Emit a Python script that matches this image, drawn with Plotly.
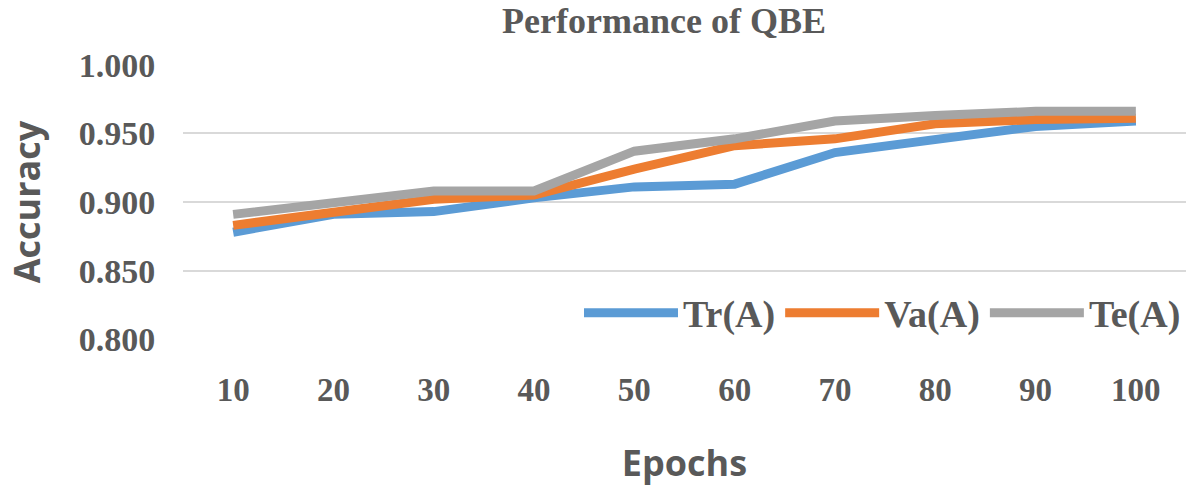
import plotly.graph_objects as go

epochs = ["10", "20", "30", "40", "50", "60", "70", "80", "90", "100"]
tr_a = [0.878, 0.891, 0.893, 0.903, 0.911, 0.913, 0.936, 0.946, 0.955, 0.959]
va_a = [0.883, 0.893, 0.902, 0.905, 0.924, 0.941, 0.946, 0.957, 0.960, 0.961]
te_a = [0.891, 0.899, 0.908, 0.908, 0.937, 0.946, 0.959, 0.963, 0.966, 0.966]
y_ticks = [0.800, 0.850, 0.900, 0.950, 1.000]
y_tick_labels = ["0.800", "0.850", "0.900", "0.950", "1.000"]

series = [("Tr(A)", tr_a, "#5B9BD5"), ("Va(A)", va_a, "#ED7D31"), ("Te(A)", te_a, "#A5A5A5")]

TEXT = "#595959"
SERIF = "Liberation Serif"
SANS = "Open Sans"

fig = go.Figure()
for name, vals, col in series:
    fig.add_trace(go.Scatter(x=epochs, y=vals, name="<b>%s</b>" % name, mode="lines",
                             line=dict(color=col, width=9)))

fig.update_layout(
    width=1193, height=492,
    margin=dict(l=183, r=7, t=64, b=152, autoexpand=False),
    paper_bgcolor="white", plot_bgcolor="white",
    title=dict(text="<b>Performance of QBE</b>", x=664/1193, xref="container", xanchor="center",
               y=1-20/492, yref="container", yanchor="middle",
               font=dict(family=SERIF, size=36, color=TEXT)),
    showlegend=True,
    legend=dict(orientation="h", x=1.0, xanchor="right", y=0.098, yanchor="middle",
                font=dict(family=SERIF, size=38, color=TEXT), bgcolor="rgba(0,0,0,0)",
                itemwidth=94, tracegroupgap=0),
    xaxis=dict(type="category", range=[-0.5, 9.5], automargin=False,
               showgrid=False, showline=False, zeroline=False,
               ticks="outside", ticklen=20, tickcolor="rgba(0,0,0,0)",
               tickfont=dict(family=SERIF, size=33, color=TEXT),
               title=dict(text="<b>Epochs</b>", font=dict(family=SANS, size=36, color=TEXT), standoff=44),
               tickprefix="<b>", ticksuffix="</b>"),
    yaxis=dict(range=[0.7995, 1.0005], automargin=False,
               tickvals=y_ticks, ticktext=["<b>%s</b>" % t for t in y_tick_labels],
               showgrid=True, gridcolor="#D9D9D9", gridwidth=2, zeroline=False, showline=False,
               ticks="outside", ticklen=20, tickcolor="rgba(0,0,0,0)",
               tickfont=dict(family=SERIF, size=34, color=TEXT),
               title=dict(text="<b>Accuracy</b>", font=dict(family=SANS, size=36, color=TEXT), standoff=27)),
)

fig.write_html("out.html", config={"displayModeBar": False},
               post_script="document.body.style.margin='0';")
